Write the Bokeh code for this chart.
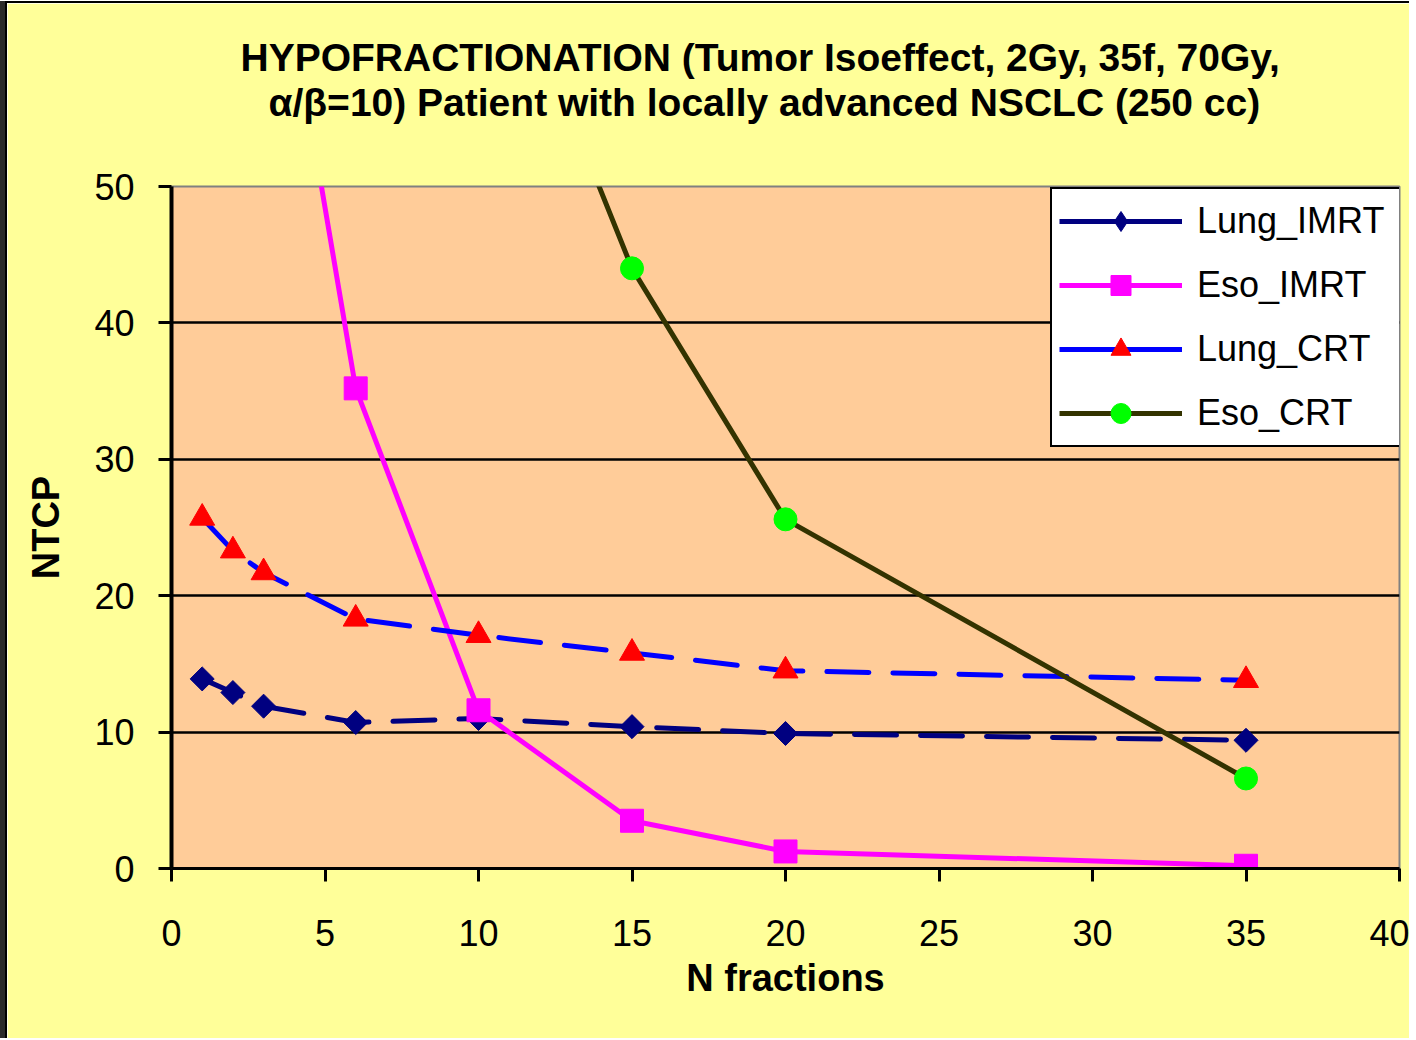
import math
from bokeh.plotting import figure
from bokeh.models import (Range1d, FixedTicker, Legend, LegendItem, Title, ColumnDataSource)
from bokeh.embed import file_html
from bokeh.resources import INLINE

# ---------------- data ----------------
fractions = [1, 2, 3, 6, 10, 15, 20, 35]
lung_imrt = [13.9, 12.9, 11.9, 10.7, 11.0, 10.4, 9.9, 9.4]
lung_crt = [25.7, 23.3, 21.7, 18.3, 17.1, 15.8, 14.5, 13.8]
eso_imrt_x = [3, 6, 10, 15, 20, 35]
eso_imrt = [75.0, 35.2, 11.6, 3.5, 1.25, 0.2]
eso_crt_x = [10, 15, 20, 35]
eso_crt = [72.0, 44.0, 25.6, 6.6]

x_ticks = [0, 5, 10, 15, 20, 25, 30, 35, 40]
y_ticks = [0, 10, 20, 30, 40, 50]
grid_ticks = [10, 20, 30, 40]

title_line1 = "HYPOFRACTIONATION (Tumor Isoeffect, 2Gy, 35f, 70Gy,"
title_line2 = "\u03b1/\u03b2=10)  Patient with locally advanced NSCLC (250 cc)"
x_label = "N fractions"
y_label = "NTCP"
series_names = ["Lung_IMRT", "Eso_IMRT", "Lung_CRT", "Eso_CRT"]

FONT = "Liberation Sans"
YELLOW = "#FFFF99"
PEACH = "#FFCC99"

p = figure(width=1404, height=1037, x_range=Range1d(0, 40), y_range=Range1d(0, 50),
           output_backend="svg", toolbar_location=None, title=None,
           min_border_left=164, min_border_right=12, min_border_top=183, min_border_bottom=172)
p.styles = {"margin-left": "5px", "margin-top": "1px",
            "border-left": "2px solid black", "border-top": "2px solid black",
            "box-shadow": "-5px 0px 0px 0px #2a2a2a"}
p.border_fill_color = YELLOW
p.background_fill_color = PEACH
p.outline_line_color = "#808080"
p.outline_line_width = 2

# axes
p.xaxis.ticker = FixedTicker(ticks=x_ticks)
p.yaxis.ticker = FixedTicker(ticks=y_ticks)
for ax, lw in ((p.xaxis, 3), (p.yaxis, 4)):
    ax.axis_line_color = "black"
    ax.axis_line_width = lw
    ax.major_tick_line_color = "black"
    ax.major_tick_line_width = 3
    ax.major_tick_in = 0
    ax.major_tick_out = 13
    ax.minor_tick_line_color = None
    ax.major_label_text_font = FONT
    ax.major_label_text_font_size = "36px"
    ax.major_label_text_color = "black"
    ax.axis_label_text_font = FONT
    ax.axis_label_text_font_size = "38px"
    ax.axis_label_text_font_style = "bold"
    ax.axis_label_text_color = "black"
p.yaxis.major_label_standoff = 24
p.xaxis.major_label_standoff = 38
p.xaxis.axis_label = x_label
p.yaxis.axis_label = y_label
p.xaxis.axis_label_standoff = 8
p.yaxis.axis_label_standoff = 24

p.xgrid.visible = False
p.ygrid.ticker = FixedTicker(ticks=grid_ticks)
p.ygrid.grid_line_color = "black"
p.ygrid.grid_line_width = 2.5

# title: spacer nearest the plot, then the two title lines
p.add_layout(Title(text=" ", text_font=FONT, text_font_size="1px", standoff=60), "above")
p.add_layout(Title(text=title_line2, text_font=FONT, text_font_size="39px", text_font_style="bold",
                   text_color="black", align="left", offset=97, standoff=0), "above")
p.add_layout(Title(text=title_line1, text_font=FONT, text_font_size="39px", text_font_style="bold",
                   text_color="black", align="left", offset=69, standoff=0), "above")

# series
p.line(fractions, lung_imrt, line_color="#000080", line_width=5, line_dash="42 24", line_cap="round")
p.scatter(fractions, lung_imrt, marker="square", angle=math.pi / 4, size=17,
          fill_color="#000080", line_color="#000080")
p.line(eso_imrt_x, eso_imrt, line_color="#FF00FF", line_width=5)
p.scatter(eso_imrt_x, eso_imrt, marker="square", size=23, fill_color="#FF00FF", line_color="#FF00FF")
p.line(fractions, lung_crt, line_color="#0000FF", line_width=5, line_dash="42 24", line_cap="round")
p.scatter(fractions, lung_crt, marker="triangle", size=25, fill_color="#FF0000", line_color="#FF0000")
p.line(eso_crt_x, eso_crt, line_color="#333300", line_width=5)
p.scatter(eso_crt_x, eso_crt, marker="circle", size=23, fill_color="#00FF00", line_color="#00FF00")

# legend proxies (solid lines as in the reference legend); one NaN point so they draw nothing
nan = float("nan")
def proxy(lc, marker, fc):
    src = ColumnDataSource(dict(x=[nan], y=[nan]))
    l = p.line("x", "y", source=src, line_color=lc, line_width=5)
    m = p.scatter("x", "y", source=src, marker=marker, fill_color=fc, line_color=fc)
    return [l, m]

items = [
    LegendItem(label=series_names[0], renderers=proxy("#000080", "diamond", "#000080")),
    LegendItem(label=series_names[1], renderers=proxy("#FF00FF", "square", "#FF00FF")),
    LegendItem(label=series_names[2], renderers=proxy("#0000FF", "triangle", "#FF0000")),
    LegendItem(label=series_names[3], renderers=proxy("#333300", "circle", "#00FF00")),
]
legend = Legend(items=items, location=(879, 421))
legend.label_text_font = FONT
legend.label_text_font_size = "36px"
legend.label_text_color = "black"
legend.glyph_width = 123
legend.glyph_height = 50
legend.label_height = 50
legend.label_width = 196
legend.label_standoff = 15
legend.spacing = 14
legend.padding = 7
legend.margin = 0
legend.border_line_color = "black"
legend.border_line_width = 2
legend.border_line_alpha = 1.0
legend.background_fill_color = "white"
legend.background_fill_alpha = 1.0
p.add_layout(legend, "center")

open("out.html", "w").write(file_html(p, INLINE))
